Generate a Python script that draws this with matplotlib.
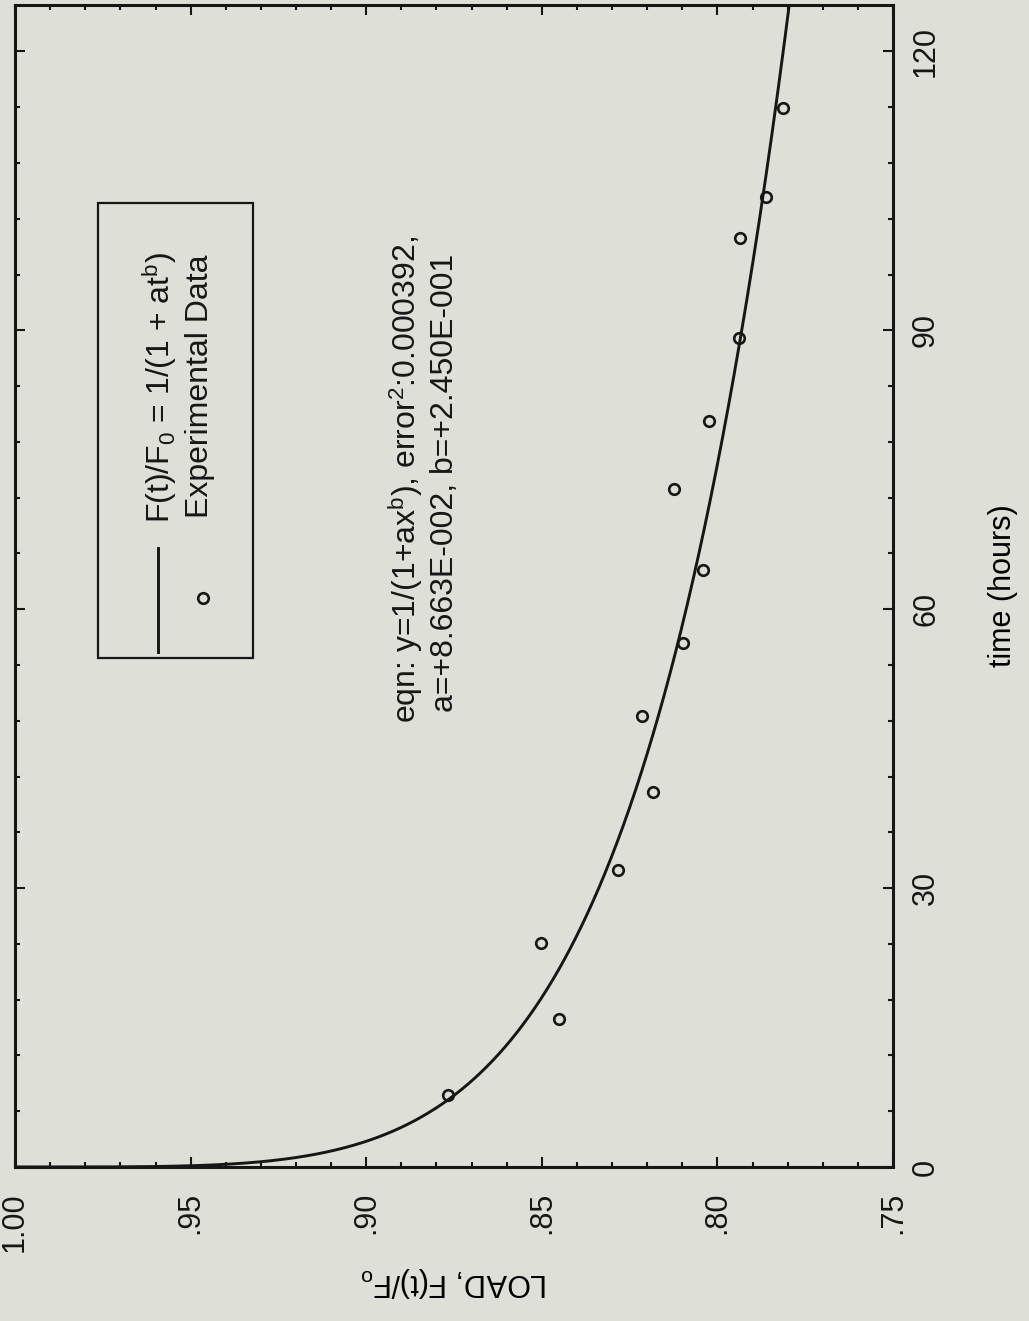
import numpy as np
import matplotlib
matplotlib.use("Agg")
import matplotlib.pyplot as plt
from matplotlib.patches import Rectangle
from matplotlib.lines import Line2D
from matplotlib.ticker import MultipleLocator

# stress relaxation test: measured load ratio vs. time, with fitted power law
time_hours = [7.75, 15.9, 24.1, 31.9, 40.3, 48.5, 56.4, 64.2, 72.9, 80.3, 89.2, 99.9, 104.4, 113.9]
load_ratio = [0.8767, 0.8451, 0.8502, 0.8283, 0.8183, 0.8215, 0.8098, 0.8041, 0.8124, 0.8024,
              0.7938, 0.7936, 0.7862, 0.7813]

fit_a = 8.663e-02
fit_b = 2.450e-01

load_ticks = [1.00, 0.95, 0.90, 0.85, 0.80, 0.75]
load_tick_labels = ['1.00', '.95', '.90', '.85', '.80', '.75']
time_ticks = [0, 30, 60, 90, 120]
time_tick_labels = ['0', '30', '60', '90', '120']

bg = '#dedfd7'
ink = '#161616'

plt.rcParams['font.family'] = ['Liberation Sans', 'DejaVu Sans']
plt.rcParams['mathtext.fontset'] = 'custom'
plt.rcParams['mathtext.rm'] = 'Liberation Sans'
plt.rcParams['mathtext.it'] = 'Liberation Sans:italic'
plt.rcParams['text.color'] = ink

fig = plt.figure(figsize=(10.29, 13.21), dpi=100, facecolor=bg)
ax = fig.add_axes([0.0146, 0.1166, 0.8533, 0.8796])
ax.set_facecolor(bg)

# page is printed sideways: load runs along the bottom, time up the right side
t = np.concatenate([[0.0], np.geomspace(1e-6, 125, 3000)])
f = 1.0 / (1.0 + fit_a * t ** fit_b)
ax.plot(f, t, color=ink, lw=2.1, solid_capstyle='butt')
ax.plot(load_ratio, time_hours, 'o', ms=7.6, mfc='none', mec=ink, mew=1.9)

ax.set_xlim(1.0, 0.75)
ax.set_ylim(0, 125)

ax.set_xticks(load_ticks)
ax.set_xticklabels(load_tick_labels)
ax.xaxis.set_minor_locator(MultipleLocator(0.01))
ax.set_yticks(time_ticks)
ax.set_yticklabels(time_tick_labels)
ax.yaxis.set_minor_locator(MultipleLocator(6))

ax.tick_params(which='both', direction='in', top=True, bottom=True, left=True, right=True,
               labelleft=False, labelright=True, labeltop=False, labelbottom=True,
               width=1.5, color=ink, labelcolor=ink)
ax.tick_params(which='major', length=7.5)
ax.tick_params(which='minor', length=3.8)
ax.tick_params(axis='x', pad=18, labelsize=22, labelrotation=90)
ax.tick_params(axis='y', pad=13, labelsize=22, labelrotation=90)
plt.setp(ax.get_yticklabels(), va='center')

for s in ax.spines.values():
    s.set_linewidth(2.2)
    s.set_color(ink)

ax.set_xlabel('LOAD, F(t)/F$_\\mathrm{o}$', fontsize=22, rotation=180, labelpad=10)
ax.yaxis.set_label_position('right')
ax.set_ylabel('time (hours)', fontsize=22, rotation=90, labelpad=34)

# hand-built legend box (rotated with the page)
ax.add_patch(Rectangle((0.0945, 0.438), 0.1766, 0.3916, transform=ax.transAxes,
                       fill=False, ec=ink, lw=1.6))
ax.add_line(Line2D([0.1629, 0.1629], [0.4432, 0.5327], transform=ax.transAxes,
                   color=ink, lw=2.1))
ax.add_line(Line2D([0.2141], [0.4897], transform=ax.transAxes, marker='o', ms=7.6,
                   mfc='none', mec=ink, mew=1.9, ls='none'))
ax.text(0.1765, 0.5542, 'F(t)/F$_\\mathrm{0}$ = 1/(1 + at$^\\mathrm{b}$)', transform=ax.transAxes,
        rotation=90, rotation_mode='anchor', ha='left', va='baseline', fontsize=23)
ax.text(0.2198, 0.5585, 'Experimental Data', transform=ax.transAxes,
        rotation=90, rotation_mode='anchor', ha='left', va='baseline', fontsize=23)

# fit summary
ax.text(0.4567, 0.3821, 'eqn: y=1/(1+ax$^\\mathrm{b}$), error$^\\mathrm{2}$:0.000392,',
        transform=ax.transAxes, rotation=90, rotation_mode='anchor',
        ha='left', va='baseline', fontsize=23)
ax.text(0.4989, 0.3916, 'a=+8.663E-002, b=+2.450E-001',
        transform=ax.transAxes, rotation=90, rotation_mode='anchor',
        ha='left', va='baseline', fontsize=23)

fig.savefig('out.png', dpi=100, facecolor=bg)
